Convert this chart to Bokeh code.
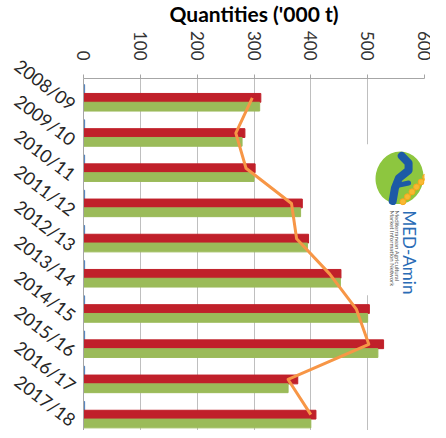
import math
from bokeh.plotting import figure
from bokeh.models import Range1d, FixedTicker, LinearAxis
from bokeh.core.properties import value
from bokeh.embed import file_html
from bokeh.resources import INLINE

seasons = ["2008/09", "2009/10", "2010/11", "2011/12", "2012/13",
           "2013/14", "2014/15", "2015/16", "2016/17", "2017/18"]
blue_vals = [2, 2, 2, 2, 2, 2, 2, 2, 2, 2]
red_vals = [312, 284, 302, 385, 396, 453, 503, 528, 377, 409]
green_vals = [310, 279, 300, 382, 394, 452, 500, 518, 360, 400]
line_vals = [297, 268, 286, 366, 375, 433, 480, 502, 360, 400]
x_ticks = [0, 100, 200, 300, 400, 500, 600]

FONT = "Lato"
n = len(seasons)
centers = [i + 0.5 for i in range(n)]
label_pos = [c + 0.28 for c in centers]

p = figure(width=430, height=430, output_backend="svg",
           toolbar_location=None,
           x_range=Range1d(0, 600), y_range=Range1d(n, 0),
           x_axis_location=None, y_axis_location="left",
           min_border_left=79, min_border_right=6, min_border_top=73,
           min_border_bottom=0)
p.outline_line_color = None
p.background_fill_color = "white"
p.border_fill_color = "white"

# title
p.title.text = "Quantities ('000 t)"
p.title.align = "center"
p.title.vertical_align = "top"
p.title.text_font = FONT
p.title.text_font_size = "21px"
p.title.text_font_style = "bold"
p.title.text_color = "black"
p.title.offset = 0
p.title.standoff = 0

# top axis
top = LinearAxis(ticker=FixedTicker(ticks=x_ticks))
top.major_label_orientation = -math.pi / 2
top.major_label_text_font = FONT
top.major_label_text_font_size = "17px"
top.major_label_text_color = "#333333"
top.axis_line_color = "#a6a6a6"
top.major_tick_line_color = "#a6a6a6"
top.major_tick_out = 4
top.major_tick_in = 0
top.minor_tick_line_color = None
top.major_label_standoff = 14
p.add_layout(top, "above")

# left axis
yax = p.yaxis[0]
yax.ticker = FixedTicker(ticks=label_pos)
yax.major_label_overrides = {c: s for c, s in zip(label_pos, seasons)}
yax.major_label_orientation = -0.65
yax.major_label_text_font = FONT
yax.major_label_text_font_size = "18px"
yax.major_label_text_color = "#262626"
yax.axis_line_color = "#a6a6a6"
yax.major_tick_line_color = None
yax.minor_tick_line_color = None
yax.major_label_standoff = 4

p.xgrid.ticker = FixedTicker(ticks=x_ticks)
p.xgrid.grid_line_color = "#bfbfbf"
p.ygrid.grid_line_color = None

h = 0.25
p.hbar(y=[c - 0.2 for c in centers], left=0, right=blue_vals, height=h,
       color="#4f81bd")
p.hbar(y=[c + 0.05 for c in centers], left=0, right=red_vals, height=h,
       color="#c0202a")
p.hbar(y=[c + 0.3 for c in centers], left=0, right=green_vals, height=h,
       color="#9bbb59")
p.line(x=line_vals, y=[c + 0.05 for c in centers], line_color="#f79646",
       line_width=3, line_join="round")

# MED-Amin logo (decoration)
p.quad(left=[495], right=[610], top=[1.87], bottom=[6.16],
       fill_color="white", line_color=None)
p.ellipse(x=[556], y=[2.82], width=84, height=1.5, angle=-0.2,
          fill_color="#8dc63f", line_color=None)
p.line(x=[560, 572, 572, 555, 548, 544], y=[2.2, 2.40, 2.61, 2.83, 3.11, 3.48],
       line_color="#1c5aa6", line_width=8, line_cap="round", line_join="round")
p.line(x=[549, 572], y=[3.05, 2.97], line_color="#1c5aa6", line_width=5,
       line_cap="round")
p.line(x=[607, 560], y=[2.74, 3.56], line_color="#f6a81c", line_width=2)
p.scatter(x=[602, 594, 586, 578, 570, 562],
          y=[2.80, 2.94, 3.08, 3.22, 3.36, 3.50],
          size=6, marker="circle", fill_color="#f8b933", line_color="#f6a81c")
p.text(x=[574], y=[3.75], text=["MED-Amin"], angle=-math.pi / 2,
       text_font=value(FONT), text_font_size="17px", text_color="#2a6cb6",
       text_align="left", text_baseline="middle")
p.text(x=[553, 544], y=[3.75, 3.75],
       text=["Mediterranean Agricultural", "Market Information Network"],
       angle=-math.pi / 2, text_font=value(FONT), text_font_size="6px",
       text_color="#555555", text_align="left", text_baseline="middle")

open("out.html", "w").write(file_html(p, INLINE))
